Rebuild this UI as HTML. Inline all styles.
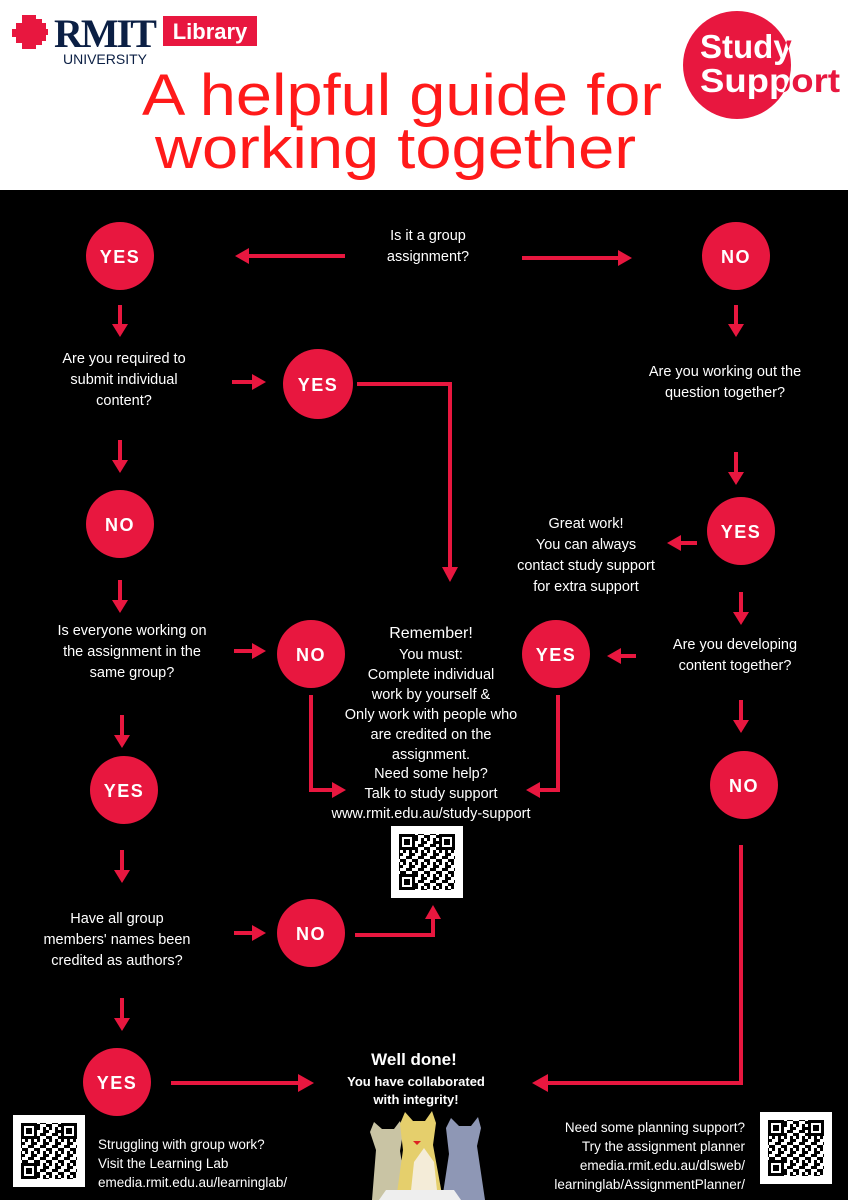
<!DOCTYPE html>
<html><head><meta charset="utf-8">
<style>
html,body{margin:0;padding:0;width:848px;height:1200px;overflow:hidden;background:#000}
svg{display:block}
.t{font-family:"Liberation Sans",sans-serif;fill:#fff;font-size:14.5px;text-anchor:middle}
.c{font-family:"Liberation Sans",sans-serif;fill:#fff;font-size:18px;font-weight:bold;text-anchor:middle;letter-spacing:1.5px}
</style></head><body>
<svg width="848" height="1200" viewBox="0 0 848 1200" xmlns="http://www.w3.org/2000/svg">
<defs>
<clipPath id="cc"><circle cx="737" cy="65" r="54"/></clipPath>
<pattern id="qp" width="12" height="12" patternUnits="userSpaceOnUse">
<rect x="0" y="0" width="3" height="3" fill="#000"/><rect x="6" y="0" width="3" height="6" fill="#000"/>
<rect x="3" y="6" width="6" height="3" fill="#000"/><rect x="9" y="3" width="3" height="3" fill="#000"/>
<rect x="0" y="9" width="3" height="3" fill="#000"/><rect x="9" y="9" width="3" height="3" fill="#000"/>
</pattern>
<g id="qr">
<rect x="0" y="0" width="72" height="72" fill="#fff"/>
<rect x="8" y="8" width="56" height="56" fill="url(#qp)"/>
<rect x="8" y="8" width="16" height="16" fill="#fff"/><rect x="9.5" y="9.5" width="13" height="13" fill="none" stroke="#000" stroke-width="3"/><rect x="13" y="13" width="6" height="6" fill="#000"/>
<rect x="48" y="8" width="16" height="16" fill="#fff"/><rect x="49.5" y="9.5" width="13" height="13" fill="none" stroke="#000" stroke-width="3"/><rect x="53" y="13" width="6" height="6" fill="#000"/>
<rect x="8" y="48" width="16" height="16" fill="#fff"/><rect x="9.5" y="49.5" width="13" height="13" fill="none" stroke="#000" stroke-width="3"/><rect x="13" y="53" width="6" height="6" fill="#000"/>
</g>
</defs>

<!-- header -->
<rect x="0" y="0" width="848" height="190" fill="#fff"/>
<path d="M22 15h14v4h6v4h4v6h2v6h-2v6h-4v4h-6v4H22v-6h-6v-6h-4v-8h4v-6h6z" fill="#e8173f"/>
<text x="54" y="47" font-family="Liberation Serif,serif" font-weight="bold" font-size="40" fill="#0b1f44" letter-spacing="-2">RMIT</text>
<rect x="163" y="16" width="94" height="30" fill="#e8173f"/>
<text x="210" y="39" font-family="Liberation Sans,sans-serif" font-weight="bold" font-size="22" fill="#fff" text-anchor="middle">Library</text>
<text x="105" y="64" font-family="Liberation Sans,sans-serif" font-size="14" fill="#0b1f44" text-anchor="middle">UNIVERSITY</text>
<circle cx="737" cy="65" r="54" fill="#e8173f"/>
<g font-family="Liberation Sans,sans-serif" font-weight="bold" font-size="33">
<text x="700" y="58" fill="#e8173f">Study</text>
<text x="700" y="92" fill="#e8173f" textLength="140" lengthAdjust="spacingAndGlyphs">Support</text>
<g clip-path="url(#cc)">
<text x="700" y="58" fill="#fff">Study</text>
<text x="700" y="92" fill="#fff" textLength="140" lengthAdjust="spacingAndGlyphs">Support</text>
</g>
</g>
<text x="142" y="115" font-family="Liberation Sans,sans-serif" font-size="58" fill="#ff1a1a" textLength="520" lengthAdjust="spacingAndGlyphs">A helpful guide for</text>
<text x="155" y="168" font-family="Liberation Sans,sans-serif" font-size="58" fill="#ff1a1a" textLength="481" lengthAdjust="spacingAndGlyphs">working together</text>

<!-- connectors -->
<g stroke="#e8173f" stroke-width="4" fill="none">
<path d="M345 256H247"/><path d="M522 258H620"/>
<path d="M120 305V326"/><path d="M736 305V326"/>
<path d="M232 382H254"/>
<path d="M357 384H450V568"/>
<path d="M120 440V462"/><path d="M736 452V474"/>
<path d="M697 543H680"/>
<path d="M741 592V614"/><path d="M120 580V602"/>
<path d="M234 651H254"/><path d="M636 656H620"/>
<path d="M311 695V790H334"/><path d="M558 695V790H538"/>
<path d="M741 700V722"/><path d="M122 715V737"/>
<path d="M122 850V872"/><path d="M234 933H254"/>
<path d="M355 935H433V918"/>
<path d="M122 998V1020"/>
<path d="M171 1083H300"/>
<path d="M741 845V1083H546"/>
</g>
<g fill="#e8173f">
<path d="M235 256l14-8v16z"/><path d="M632 258l-14-8v16z"/>
<path d="M120 337l-8-13h16z"/><path d="M736 337l-8-13h16z"/>
<path d="M266 382l-14-8v16z"/>
<path d="M450 582l-8-15h16z"/>
<path d="M120 473l-8-13h16z"/><path d="M736 485l-8-13h16z"/>
<path d="M667 543l14-8v16z"/>
<path d="M741 625l-8-13h16z"/><path d="M120 613l-8-13h16z"/>
<path d="M266 651l-14-8v16z"/><path d="M607 656l14-8v16z"/>
<path d="M346 790l-14-8v16z"/><path d="M526 790l14-8v16z"/>
<path d="M741 733l-8-13h16z"/><path d="M122 748l-8-13h16z"/>
<path d="M122 883l-8-13h16z"/><path d="M266 933l-14-8v16z"/>
<path d="M433 905l-8 14h16z"/>
<path d="M122 1031l-8-13h16z"/>
<path d="M314 1083l-16-9v18z"/>
<path d="M532 1083l16-9v18z"/>
</g>

<!-- circles -->
<g fill="#e8173f">
<circle cx="120" cy="256" r="34"/><circle cx="736" cy="256" r="34"/>
<circle cx="318" cy="384" r="35"/><circle cx="120" cy="524" r="34"/>
<circle cx="741" cy="531" r="34"/><circle cx="311" cy="654" r="34"/>
<circle cx="556" cy="654" r="34"/><circle cx="124" cy="790" r="34"/>
<circle cx="744" cy="785" r="34"/><circle cx="311" cy="933" r="34"/>
<circle cx="117" cy="1082" r="34"/>
</g>
<g>
<text x="120" y="263" class="c">YES</text><text x="736" y="263" class="c">NO</text>
<text x="318" y="391" class="c">YES</text><text x="120" y="531" class="c">NO</text>
<text x="741" y="538" class="c">YES</text><text x="311" y="661" class="c">NO</text>
<text x="556" y="661" class="c">YES</text><text x="124" y="797" class="c">YES</text>
<text x="744" y="792" class="c">NO</text><text x="311" y="940" class="c">NO</text>
<text x="117" y="1089" class="c">YES</text>
</g>

<!-- texts -->
<g>
<text x="428" y="240" class="t">Is it a group</text><text x="428" y="261" class="t">assignment?</text>
<text x="124" y="363" class="t">Are you required to</text><text x="124" y="384" class="t">submit individual</text><text x="124" y="405" class="t">content?</text>
<text x="725" y="376" class="t">Are you working out the</text><text x="725" y="397" class="t">question together?</text>
<text x="586" y="528" class="t">Great work!</text><text x="586" y="549" class="t">You can always</text><text x="586" y="570" class="t">contact study support</text><text x="586" y="591" class="t">for extra support</text>
<text x="132" y="635" class="t">Is everyone working on</text><text x="132" y="656" class="t">the assignment in the</text><text x="132" y="677" class="t">same group?</text>
<text x="735" y="649" class="t">Are you developing</text><text x="735" y="670" class="t">content together?</text>
<text x="431" y="638" class="t" style="font-size:16px">Remember!</text>
<text x="431" y="659" class="t">You must:</text>
<text x="431" y="679" class="t">Complete individual</text>
<text x="431" y="699" class="t">work by yourself &amp;</text>
<text x="431" y="719" class="t">Only work with people who</text>
<text x="431" y="739" class="t">are credited on the</text>
<text x="431" y="759" class="t">assignment.</text>
<text x="431" y="778" class="t">Need some help?</text>
<text x="431" y="798" class="t">Talk to study support</text>
<text x="431" y="818" class="t">www.rmit.edu.au/study-support</text>
<text x="117" y="923" class="t">Have all group</text><text x="117" y="944" class="t">members' names been</text><text x="117" y="965" class="t">credited as authors?</text>
<text x="414" y="1065" class="t" style="font-size:17px;font-weight:bold">Well done!</text>
<text x="416" y="1086" class="t" style="font-size:13px;font-weight:bold">You have collaborated</text>
<text x="416" y="1104" class="t" style="font-size:13px;font-weight:bold">with integrity!</text>
</g>
<g font-family="Liberation Sans,sans-serif" font-size="13.5" fill="#fff">
<text x="98" y="1149">Struggling with group work?</text>
<text x="98" y="1168">Visit the Learning Lab</text>
<text x="98" y="1187">emedia.rmit.edu.au/learninglab/</text>
<g text-anchor="end">
<text x="745" y="1132">Need some planning support?</text>
<text x="745" y="1151">Try the assignment planner</text>
<text x="745" y="1170">emedia.rmit.edu.au/dlsweb/</text>
<text x="745" y="1189">learninglab/AssignmentPlanner/</text>
</g>
</g>

<!-- QR codes -->
<use href="#qr" x="391" y="826"/>
<use href="#qr" x="13" y="1115"/>
<use href="#qr" x="760" y="1112"/>

<!-- cats -->
<path d="M372 1200l4-50l-6-18l4-10l8 7h12l6-8l3 12l-3 18l8 49z" fill="#c9c4a4"/>
<path d="M396 1200l7-50l-3-26l5-12l8 9h12l7-10l4 12l-3 22l10 55z" fill="#e5cf6c"/>
<path d="M410 1200l4-38l10-14l10 14l4 38z" fill="#f4ecd8"/>
<path d="M413 1141h8l-4 4z" fill="#d22"/>
<path d="M442 1200l7-46l-3-26l5-10l8 8h12l7-9l3 11l-4 18l8 54z" fill="#8e97b5"/>
<path d="M386 1190h68l7 10h-82z" fill="#eee"/>
</svg>
</body></html>
